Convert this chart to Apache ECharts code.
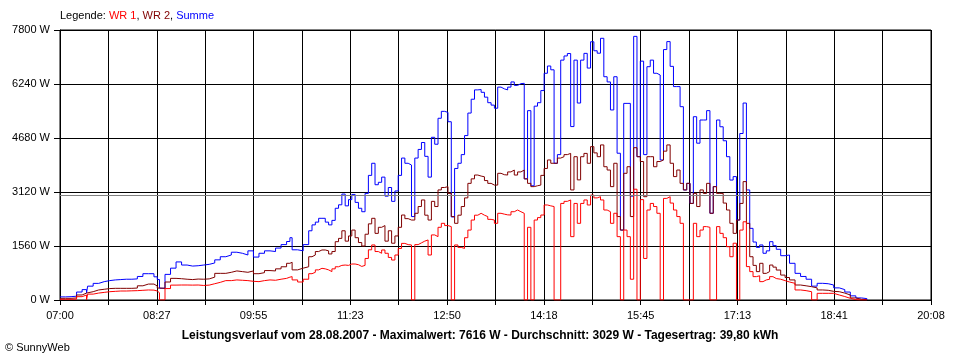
<!DOCTYPE html>
<html>
<head>
<meta charset="utf-8">
<script src="https://cdn.jsdelivr.net/npm/echarts@6/dist/echarts.min.js"></script>
<style>
html,body{margin:0;padding:0;background:#fff;}
#c{width:960px;height:360px;}
</style>
</head>
<body>
<div id="c"></div>
<script>
// ---- data ----
const times = [
  '07:00','07:05','07:10','07:15','07:20','07:24','07:25','07:30','07:35','07:40',
  '07:45','07:50','07:55','08:00','08:05','08:10','08:15','08:20','08:25','08:28',
  '08:30','08:35','08:40','08:45','08:50','08:55','09:00','09:05','09:10','09:15',
  '09:20','09:25','09:30','09:35','09:40','09:45','09:50','09:55','10:00','10:05',
  '10:10','10:15','10:20','10:25','10:28','10:30','10:35','10:40','10:45',
  '10:48','10:51','10:54','10:57',
  '11:00','11:03','11:06','11:09','11:12','11:15','11:18','11:21','11:24','11:27',
  '11:30','11:33','11:36','11:39','11:42','11:45','11:48','11:51','11:54','11:57',
  '12:00','12:03','12:06','12:09','12:12','12:15','12:18','12:21','12:24','12:27',
  '12:30','12:33','12:36','12:39','12:42','12:45','12:48','12:51','12:54','12:57',
  '13:00','13:03','13:06','13:09','13:12','13:15','13:18','13:21','13:24','13:27',
  '13:30','13:33','13:36','13:39','13:42','13:45','13:48','13:51','13:54','13:57',
  '14:00','14:03','14:06','14:09','14:12','14:15','14:18','14:21','14:24','14:27',
  '14:30','14:33','14:36','14:39','14:42','14:45','14:48','14:51','14:54','14:57',
  '15:00','15:03','15:06','15:09','15:12','15:15','15:18','15:21','15:24','15:27',
  '15:30','15:33','15:36','15:39','15:42','15:45','15:48','15:51','15:54','15:57',
  '16:00','16:03','16:06','16:09','16:12','16:15','16:18','16:21','16:24','16:27',
  '16:30','16:33','16:36','16:39','16:42','16:45','16:48','16:51','16:54','16:57',
  '17:00','17:03','17:06','17:09','17:12','17:15','17:18','17:21','17:24','17:27',
  '17:30','17:33','17:36','17:39','17:42','17:45',
  '17:48','17:52','17:56','18:00','18:05','18:10','18:15','18:20','18:25','18:30',
  '18:35','18:40','18:45','18:50','18:55','19:00','19:05','19:10'
];

const summe = [
  90,96,110,230,300,200,400,480,530,560,
  580,590,600,600,610,680,760,760,670,590,
  340,740,920,1100,1010,980,990,1010,1030,1070,
  1160,1250,1300,1380,1350,1300,1420,1240,1350,1420,
  1400,1500,1600,1690,1800,1450,1420,1600,2000,
  2170,2250,2360,2360,
  2250,2170,2300,2650,2750,3060,2720,2900,3050,2820,
  2650,2550,3080,3600,3950,3330,3400,3550,3000,3250,
  2850,3150,3600,4100,3950,3900,2410,4100,4350,4550,
  4150,3550,4700,4500,5250,5450,5420,5150,2400,3800,
  3950,4200,4750,5400,5800,6070,6080,6000,5860,5700,
  5630,5540,6150,6100,6070,6150,6300,6200,6250,6260,
  3500,5470,3300,5600,5700,6050,6550,6760,6650,3950,
  4200,6930,7050,7120,5010,6930,5690,6930,7125,6700,
  7460,7200,7130,7560,6450,6300,5490,6450,4240,2020,
  5680,5680,3000,7616,4140,6900,4200,6740,6930,6550,
  6500,4045,7235,7465,6750,6165,6165,5585,3180,3370,
  2790,5295,4530,5200,5200,5470,2505,3275,5200,5005,
  4600,4140,3465,3565,2310,4810,5690,3180,2070,1675,
  1520,1590,1350,1420,1685,1570,
  1465,1280,1300,1060,770,680,600,400,482,470,
  433,350,300,230,120,60,40,0
];

const wr2 = [
  48,48,60,145,200,200,240,290,310,330,
  337,337,337,337,345,410,460,460,405,345,
  337,520,625,615,600,590,605,600,610,660,
  770,770,800,840,820,800,840,760,790,850,
  840,900,960,1060,1090,870,920,960,1250,
  1300,1400,1445,1445,
  1420,1330,1400,1685,1780,2000,1700,1850,2020,1800,
  1660,1560,1900,2200,2360,1925,2100,2150,1700,2000,
  1640,1850,2100,2455,2350,2310,2310,2505,2700,2890,
  2450,2310,2850,2700,3180,3250,3275,3080,2410,2215,
  2450,2700,2950,3370,3500,3610,3580,3560,3450,3370,
  3320,3320,3660,3620,3610,3700,3755,3610,3700,3755,
  3500,3370,3275,3300,3320,3600,3800,4045,3950,3950,
  4100,4140,4200,4235,3180,4140,3470,4140,4235,3950,
  4430,4250,4140,4480,3850,3755,3275,3950,2410,2020,
  3660,3850,2410,4400,4140,4000,2985,4140,4140,3850,
  4000,4045,4300,4480,3950,3565,3755,3370,3180,3370,
  2790,3080,2700,3180,3080,3370,2505,3275,3080,3080,
  2800,2600,2215,1925,2310,2790,3420,2215,1250,1000,
  820,1060,770,820,1010,950,
  865,720,650,580,433,410,385,350,290,280,
  250,240,200,145,60,20,10,0
];

const wr1 = [
  20,20,25,96,145,0,170,200,220,240,
  250,260,260,265,270,280,290,285,260,210,
  0,330,430,433,433,430,433,420,430,470,
  510,560,560,580,570,560,540,530,560,580,
  570,600,625,660,675,580,520,600,760,
  800,870,915,900,
  870,820,900,960,1000,1010,1000,1040,1040,1020,
  970,1000,1200,1450,1590,1400,1350,1445,1350,1230,
  1155,1300,1490,1635,1600,1590,0,1600,1650,1700,
  1735,1300,1880,1830,2100,2215,2150,2120,0,1590,
  1520,1490,1800,2020,2310,2450,2505,2450,2410,2330,
  2310,2215,2505,2480,2460,2455,2550,2600,2550,2505,
  0,2100,0,2310,2380,2455,2745,2720,2700,0,
  0,2790,2850,2890,1830,2790,2215,2790,2890,2745,
  3030,2950,2985,2890,2600,2550,2215,2505,1830,0,
  2020,1830,600,3200,0,2900,1200,2600,2790,2700,
  2505,0,2935,2985,2800,2600,2410,2215,0,0,
  0,2215,1830,2020,2120,2100,0,0,2120,1925,
  1800,1540,1250,1640,0,2020,2260,965,820,675,
  700,530,580,600,675,620,
  600,560,520,482,290,270,240,0,193,193,
  193,145,100,48,10,0,0,0
];

const average = 3029;
const xTickLabels = ['07:00','08:27','09:55','11:23','12:50','14:18','15:45','17:13','18:41','20:08'];
const yMax = 7800, yStep = 1560;
const dayStart = '07:00', dayEnd = '20:08';
const subdivisions = 18;

// ---- build ----
function toMin(t){ const p=t.split(':'); return (+p[0])*60 + (+p[1]); }
const t0 = toMin(dayStart), span = toMin(dayEnd) - t0;
const xStep = span / subdivisions;
function pairs(vals){ return times.map((t,i)=>[toMin(t)-t0, vals[i]]); }

const FONT = 'Liberation Sans, Arial, sans-serif';
const chart = echarts.init(document.getElementById('c'), null, {renderer:'canvas'});
chart.setOption({
  animation:false,
  backgroundColor:'#ffffff',
  title:[
    {
      text:'{k|Legende: }{r|WR 1}{k|, }{m|WR 2}{k|, }{b|Summe}',
      left:60, top:10, padding:0,
      textStyle:{
        fontFamily:FONT, fontSize:11, fontWeight:'normal',
        rich:{
          k:{color:'#000', fontFamily:FONT, fontSize:11},
          r:{color:'#ff0000', fontFamily:FONT, fontSize:11},
          m:{color:'#800000', fontFamily:FONT, fontSize:11},
          b:{color:'#0000ff', fontFamily:FONT, fontSize:11}
        }
      }
    },
    {
      text:'Leistungsverlauf vom 28.08.2007 - Maximalwert: 7616 W - Durchschnitt: 3029 W - Tagesertrag: 39,80 kWh',
      left:'center', top:330, padding:0,
      textStyle:{fontFamily:FONT, fontSize:12, fontWeight:'bold', color:'#000'}
    },
    {
      text:'\u00a9 SunnyWeb',
      left:5, top:342, padding:0,
      textStyle:{fontFamily:FONT, fontSize:11, fontWeight:'normal', color:'#000'}
    }
  ],
  grid:{left:60, right:29, top:30, bottom:60, show:true, borderColor:'#000', borderWidth:1, backgroundColor:'#fff'},
  xAxis:{
    type:'value', min:0, max:span, interval:xStep,
    axisLine:{show:true, lineStyle:{color:'#000', width:1}},
    axisTick:{show:true, length:5, lineStyle:{color:'#000'}},
    splitLine:{show:true, lineStyle:{color:'#000', width:1}},
    axisLabel:{
      color:'#000', fontFamily:FONT, fontSize:11, margin:10,
      showMinLabel:true, showMaxLabel:true, hideOverlap:false,
      formatter:function(v){
        const i = Math.round(v/xStep);
        return (i%2===0) ? (xTickLabels[i/2]||'') : '';
      }
    }
  },
  yAxis:{
    type:'value', min:0, max:yMax, interval:yStep,
    axisLine:{show:true, lineStyle:{color:'#000', width:1}},
    axisTick:{show:true, length:6, lineStyle:{color:'#000'}},
    splitLine:{show:true, lineStyle:{color:'#000', width:1}},
    axisLabel:{color:'#000', fontFamily:FONT, fontSize:11, margin:10,
      formatter:function(v){ return String(Math.round(v)) + ' W'; }}
  },
  series:[
    {name:'Summe', type:'line', step:'end', data:pairs(summe), showSymbol:false, symbol:'none',
     lineStyle:{color:'#0000ff', width:1}, itemStyle:{color:'#0000ff'},
     markLine:{silent:true, symbol:['none','none'], label:{show:false},
       lineStyle:{color:'#808080', type:'solid', width:1}, data:[{yAxis:average}]}},
    {name:'WR 2', type:'line', step:'end', data:pairs(wr2), showSymbol:false, symbol:'none',
     lineStyle:{color:'#800000', width:1}, itemStyle:{color:'#800000'}},
    {name:'WR 1', type:'line', step:'end', data:pairs(wr1), showSymbol:false, symbol:'none',
     lineStyle:{color:'#ff0000', width:1}, itemStyle:{color:'#ff0000'}}
  ]
});
</script>
</body>
</html>
